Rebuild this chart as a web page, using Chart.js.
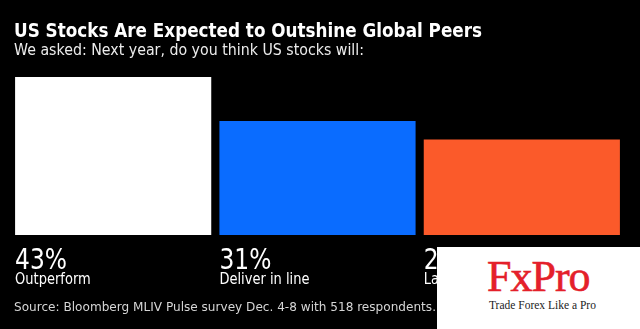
<!DOCTYPE html>
<html>
<head>
<meta charset="utf-8">
<script src="https://cdn.jsdelivr.net/npm/chart.js@4/dist/chart.umd.min.js"></script>
<style>
  html, body { margin: 0; padding: 0; background: #000; }
  #wrap { position: relative; width: 640px; height: 329px; background: #000; overflow: hidden; }
  #wm { position: absolute; left: 437px; top: 247px; width: 203px; height: 82px; background: #fff; }
  #wm .logo { position: absolute; left: 50px; top: 8px; font-family: "Liberation Serif", serif; font-size: 44px; color: #e4202a; letter-spacing: -1px; line-height: 44px; -webkit-text-stroke: 0.6px #e4202a; }
  #wm .tag { position: absolute; left: 52px; top: 52px; font-family: "Liberation Serif", serif; font-size: 11.5px; color: #222; line-height: 12px; white-space: nowrap; }
</style>
</head>
<body>
<div id="wrap">
  <canvas id="c"></canvas>
  <div id="wm"><div class="logo">FxPro</div><div class="tag">Trade Forex Like a Pro</div></div>
</div>
<script>
const titleText = 'US Stocks Are Expected to Outshine Global Peers';
const subtitleText = 'We asked: Next year, do you think US stocks will:';
const sourceText = 'Source: Bloomberg MLIV Pulse survey Dec. 4-8 with 518 respondents.';
const categories = ['Outperform', 'Deliver in line', 'Lag'];
const shares = [43, 31, 26];
const shareLabels = ['43%', '31%', '26%'];
const barColors = ['#ffffff', '#0a6cff', '#fb5a2a'];

function fitScale(ctx, text, font, w) {
  ctx.save(); ctx.font = font; const m = ctx.measureText(text).width; ctx.restore();
  return w / m;
}
function drawText(ctx, text, x, y, font, color, sx) {
  ctx.save();
  ctx.font = font; ctx.fillStyle = color; ctx.textBaseline = 'alphabetic'; ctx.textAlign = 'left';
  ctx.translate(x, y); ctx.scale(sx, 1);
  ctx.fillText(text, 0, 0);
  ctx.restore();
}

const textPlugin = {
  id: 'texts',
  afterDraw(chart) {
    const ctx = chart.ctx;
    const fTitle = 'bold 19px "DejaVu Sans"';
    const fSub = '15.5px "DejaVu Sans"';
    const fSrc = '12.5px "DejaVu Sans"';
    const fPct = '29px "DejaVu Sans"';
    const fCat = '15px "DejaVu Sans"';
    drawText(ctx, titleText, 14, 37, fTitle, '#ffffff', fitScale(ctx, titleText, fTitle, 468));
    drawText(ctx, subtitleText, 14, 55, fSub, '#ececec', fitScale(ctx, subtitleText, fSub, 350));
    drawText(ctx, sourceText, 14, 311, fSrc, '#d6d6d6', fitScale(ctx, sourceText, fSrc, 422));
    const sPct = fitScale(ctx, shareLabels[0], fPct, 52);
    const sCat = fitScale(ctx, categories[1], fCat, 90);
    const meta = chart.getDatasetMeta(0);
    meta.data.forEach((bar, i) => {
      const left = bar.x - bar.width / 2;
      drawText(ctx, shareLabels[i], left, 269, fPct, '#ffffff', sPct);
      drawText(ctx, categories[i], left, 284, fCat, '#ffffff', sCat);
    });
  }
};

new Chart(document.getElementById('c'), {
  type: 'bar',
  data: {
    labels: categories,
    datasets: [{
      data: shares,
      backgroundColor: barColors,
      borderWidth: 0,
      barPercentage: 0.96,
      categoryPercentage: 1.0
    }]
  },
  options: {
    responsive: true,
    maintainAspectRatio: false,
    animation: false,
    layout: { padding: { top: 77, bottom: 94, left: 11, right: 16 } },
    scales: {
      x: { display: false },
      y: { display: false, min: 0, max: 43 }
    },
    plugins: { legend: { display: false }, tooltip: { enabled: false }, title: { display: false } }
  },
  plugins: [textPlugin]
});
</script>
</body>
</html>
